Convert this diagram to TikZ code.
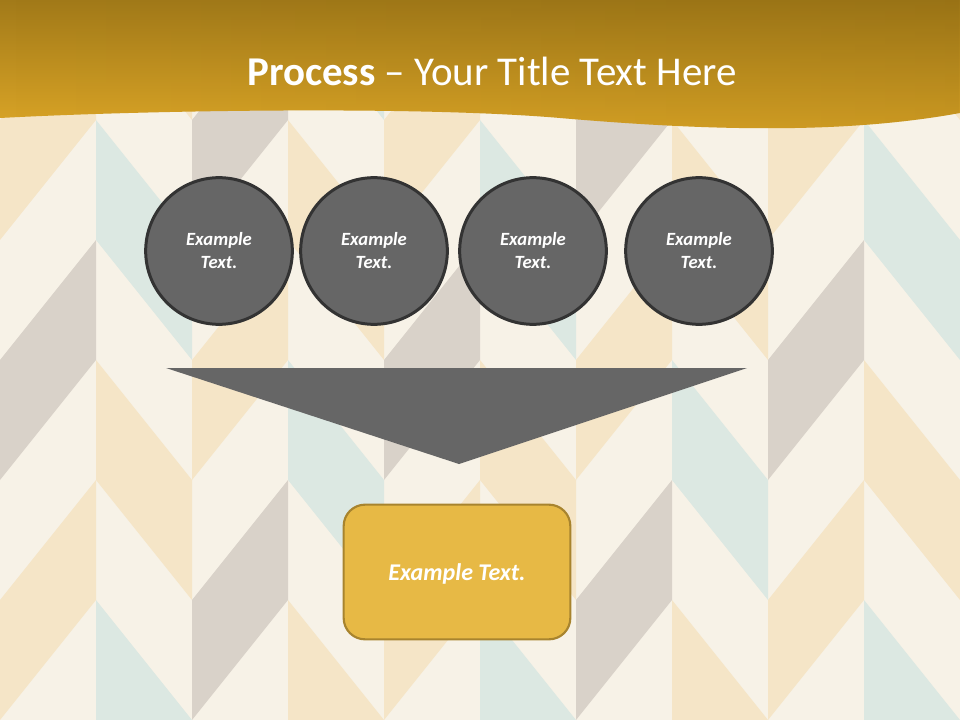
\documentclass[tikz,border=0pt]{standalone}
\usepackage{fontspec}
\setmainfont{Carlito}
\usetikzlibrary{fadings}
\definecolor{cream}{HTML}{F7F2E7}
\definecolor{patY}{HTML}{F5E5C7}
\definecolor{patG}{HTML}{D9D2C9}
\definecolor{patL}{HTML}{DCE8E2}
\definecolor{circFill}{HTML}{666666}
\definecolor{circBorder}{HTML}{333333}
\definecolor{arrowFill}{HTML}{666666}
\definecolor{boxFill}{HTML}{E7B945}
\definecolor{boxBorder}{HTML}{A8842E}
\definecolor{bannerTop}{HTML}{A27A19}
\definecolor{bannerBot}{HTML}{DDA727}
\definecolor{bannerDark}{HTML}{5A4000}
\tikzset{
  stepcircle/.style={circle, draw=circBorder, fill=circFill, line width=2.25pt,
    minimum size=110pt, inner sep=0pt, text=white, align=center,
    font=\bfseries\itshape\fontsize{14}{17.25}\selectfont},
  resultbox/.style={rectangle, rounded corners=16pt, draw=boxBorder, fill=boxFill,
    line width=1.6pt, minimum width=170pt, minimum height=101pt, inner sep=0pt,
    text depth=0pt, text=white, font=\bfseries\itshape\fontsize{18}{22}\selectfont},
  titletext/.style={anchor=base, text=white, inner sep=0pt, font=\fontsize{30.7}{37}\selectfont}
}
\begin{document}
\begin{tikzpicture}[x=0.75pt,y=-0.75pt]
\useasboundingbox (0,0) rectangle (960,720);
% background herringbone
\begin{scope}
\clip (0,0) rectangle (960,720);
\fill[cream] (0,0) rectangle (960,720);
\foreach \xo in {0,384,768}{
  \foreach \j/\col in {1/patY,3/patG,5/patY,7/patG}{
    \fill[\col] (\xo,120*\j) -- (\xo+96,120*\j-120) -- (\xo+96,120*\j) -- (\xo,120*\j+120) -- cycle;
  }
}
\foreach \xo in {96,480,864}{
  \foreach \j/\col in {0/patY,2/patL,4/patY,6/patL}{
    \fill[\col] (\xo,120*\j-120) -- (\xo+96,120*\j) -- (\xo+96,120*\j+120) -- (\xo,120*\j) -- cycle;
  }
}
\foreach \xo in {192,576}{
  \foreach \j/\col in {1/patG,3/patY,5/patG,7/patY}{
    \fill[\col] (\xo,120*\j) -- (\xo+96,120*\j-120) -- (\xo+96,120*\j) -- (\xo,120*\j+120) -- cycle;
  }
}
\foreach \xo in {288,672}{
  \foreach \j/\col in {0/patL,2/patY,4/patL,6/patY}{
    \fill[\col] (\xo,120*\j-120) -- (\xo+96,120*\j) -- (\xo+96,120*\j+120) -- (\xo,120*\j) -- cycle;
  }
}
\end{scope}
% banner
\shade[top color=bannerTop, bottom color=bannerBot]
  (0,0) -- (960,0) -- (960,113) .. controls (840,135) and (700,130) .. (560,118)
  .. controls (420,106) and (150,110) .. (0,118) -- cycle;
\fill[bannerDark, fill opacity=0.12, path fading=west]
  (0,0) -- (960,0) -- (960,113) .. controls (840,135) and (700,130) .. (560,118)
  .. controls (420,106) and (150,110) .. (0,118) -- cycle;
\node[titletext] (title) at (492,86) {\textbf{Process} – Your Title Text Here};
% circles
\node[stepcircle] (s1) at (219,251) {Example\\Text.};
\node[stepcircle] (s2) at (374,251) {Example\\Text.};
\node[stepcircle] (s3) at (533,251) {Example\\Text.};
\node[stepcircle] (s4) at (699,251) {Example\\Text.};
% funnel arrow
\coordinate (aL) at (166,368);
\coordinate (aR) at (747,368);
\coordinate (aT) at (459,464);
\fill[arrowFill] (aL) -- (aR) -- (aT) -- cycle;
% result box
\node[resultbox] (res) at (457,572) {Example Text.};
\end{tikzpicture}
\end{document}
